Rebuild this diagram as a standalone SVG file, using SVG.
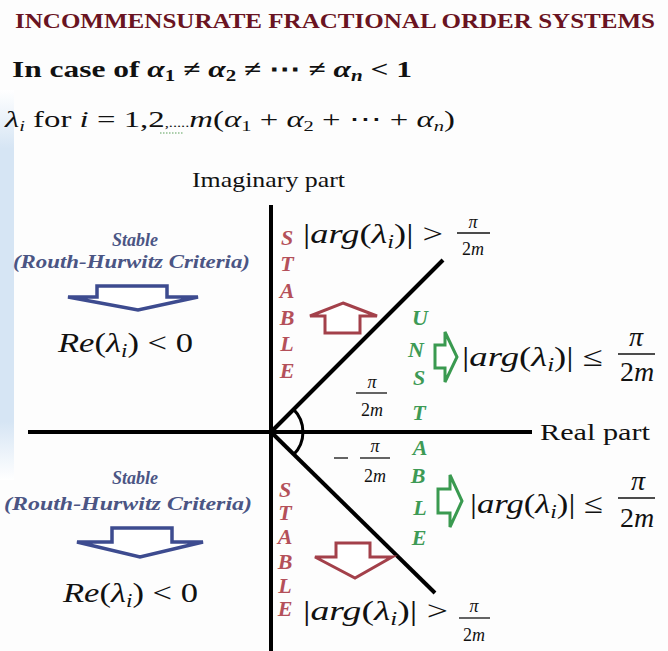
<svg xmlns="http://www.w3.org/2000/svg" width="668" height="651" viewBox="0 0 668 651" font-family="'Liberation Serif', serif">
<defs>
<linearGradient id="strip" x1="0" y1="0" x2="0" y2="1">
<stop offset="0" stop-color="#ffffff"/>
<stop offset="0.15" stop-color="#d6e5f4"/>
<stop offset="0.85" stop-color="#d6e5f4"/>
<stop offset="1" stop-color="#ffffff"/>
</linearGradient>
<style>
text{font-family:'Liberation Serif',serif;fill:#111}
.title{font-weight:bold;font-size:21px;fill:#6a1422}
.hdr{font-size:24px}
.b{font-weight:bold}
.it{font-style:italic}
.red{font-weight:bold;font-style:italic;font-size:22px;fill:#b4505a;text-anchor:middle}
.grn{font-weight:bold;font-style:italic;font-size:22px;fill:#3d9a55;text-anchor:middle}
.blue{font-weight:bold;font-style:italic;font-size:18px;fill:#4b5584;text-anchor:middle}
.axis{stroke:#000;stroke-width:4;fill:none}
.frac{stroke:#111;stroke-width:1.3}
.sm{font-size:18px}
.lg{font-size:28px}
.md{font-size:27px}
.arB{fill:#fff;stroke:#3d4b8f;stroke-width:3.5;stroke-linejoin:miter}
.arR{fill:#fff;stroke:#a3404a;stroke-width:3}
.arG{fill:#fff;stroke:#3a9a50;stroke-width:3}
</style>
</defs>
<rect width="668" height="651" fill="#fdfdfd"/>
<rect x="0" y="90" width="14" height="390" fill="url(#strip)"/>

<g id="title">
<text class="title" x="15" y="28" textLength="640" lengthAdjust="spacingAndGlyphs">INCOMMENSURATE FRACTIONAL ORDER SYSTEMS</text>
</g>
<g id="condition">
<text class="hdr b" x="12" y="77" textLength="400" lengthAdjust="spacingAndGlyphs">In case of  <tspan class="it">α</tspan><tspan font-size="16" dy="4">1</tspan><tspan dy="-4"> ≠  </tspan><tspan class="it">α</tspan><tspan font-size="16" dy="4">2</tspan><tspan dy="-4"> ≠ ⋯ ≠ </tspan><tspan class="it">α</tspan><tspan class="it" font-size="16" dy="4">n</tspan><tspan dy="-4"> &lt; 1</tspan></text>
</g>
<g id="eigen">
<text class="hdr" x="5" y="127" textLength="450" lengthAdjust="spacingAndGlyphs"><tspan class="it">λ</tspan><tspan class="it" font-size="15" dy="4">i</tspan><tspan dy="-4"> for </tspan><tspan class="it">i</tspan> = 1,2<tspan font-size="12">,.....</tspan><tspan class="it">m</tspan>(<tspan class="it">α</tspan><tspan font-size="15" dy="4">1</tspan><tspan dy="-4"> +  </tspan><tspan class="it">α</tspan><tspan font-size="15" dy="4">2</tspan><tspan dy="-4"> + ⋯ + </tspan><tspan class="it">α</tspan><tspan class="it" font-size="15" dy="4">n</tspan><tspan dy="-4">)</tspan></text>
<line x1="160" y1="133" x2="184" y2="133" stroke="#5aa05a" stroke-width="1.2" stroke-dasharray="1.5,1.5"/>
</g>

<g id="connectors">
<line class="axis" x1="271" y1="205" x2="271" y2="651"/>
<line class="axis" x1="28" y1="432" x2="532" y2="432"/>
<line class="axis" x1="271" y1="432" x2="443" y2="260"/>
<line class="axis" x1="271" y1="432" x2="435" y2="593"/>
<path d="M293.6,409.4 A32,32 0 0 1 293.6,454.6" fill="none" stroke="#000" stroke-width="3"/>
</g>

<g id="axis-labels">
<text x="192" y="187" font-size="22" textLength="153" lengthAdjust="spacingAndGlyphs">Imaginary part</text>
<text x="540" y="440" font-size="23" textLength="110" lengthAdjust="spacingAndGlyphs">Real part</text>
</g>

<g id="angle-labels">
<text class="sm it" x="372" y="388" text-anchor="middle">π</text>
<line class="frac" x1="356" y1="393" x2="387" y2="393"/>
<text class="sm" x="372" y="416" text-anchor="middle">2<tspan class="it">m</tspan></text>
<line class="frac" x1="334" y1="458" x2="348" y2="458"/>
<text class="sm it" x="375" y="452" text-anchor="middle">π</text>
<line class="frac" x1="360" y1="458" x2="390" y2="458"/>
<text class="sm" x="375" y="482" text-anchor="middle">2<tspan class="it">m</tspan></text>
</g>

<g id="stable-left-upper">
<text class="blue" x="135" y="246">Stable</text>
<text class="blue" x="13" y="268" style="text-anchor:start" textLength="237" lengthAdjust="spacingAndGlyphs">(Routh-Hurwitz Criteria)</text>
<polygon class="arB" points="97,286 167,286 167,297 198,297 138,310 68,297 97,297"/>
<text class="md" x="58" y="352" textLength="135" lengthAdjust="spacingAndGlyphs"><tspan class="it">Re</tspan>(<tspan class="it">λ</tspan><tspan class="it" font-size="18" dy="5">i</tspan><tspan dy="-5">) &lt; 0</tspan></text>
</g>

<g id="stable-left-lower">
<text class="blue" x="135" y="484">Stable</text>
<text class="blue" x="4" y="510" style="text-anchor:start" textLength="248" lengthAdjust="spacingAndGlyphs">(Routh-Hurwitz Criteria)</text>
<polygon class="arB" points="112,528 172,528 172,542 203,542 140,557 77,542 112,542"/>
<text class="md" x="63" y="602" textLength="135" lengthAdjust="spacingAndGlyphs"><tspan class="it">Re</tspan>(<tspan class="it">λ</tspan><tspan class="it" font-size="18" dy="5">i</tspan><tspan dy="-5">) &lt; 0</tspan></text>
</g>

<g id="stable-upper">
<text class="red" x="287" y="245">S</text>
<text class="red" x="287" y="271">T</text>
<text class="red" x="287" y="298">A</text>
<text class="red" x="287" y="325">B</text>
<text class="red" x="287" y="351">L</text>
<text class="red" x="287" y="378">E</text>
<text class="md" x="303" y="243" textLength="140" lengthAdjust="spacingAndGlyphs">|<tspan class="it">arg</tspan>(<tspan class="it">λ</tspan><tspan class="it" font-size="18" dy="5">i</tspan><tspan dy="-5">)| &gt;</tspan></text>
<text class="sm it" x="473" y="228" text-anchor="middle">π</text>
<line class="frac" x1="457" y1="233" x2="490" y2="233"/>
<text class="sm" x="473" y="255" text-anchor="middle">2<tspan class="it">m</tspan></text>
<polygon class="arR" points="343,303 377,316 360,316 360,333 325,333 325,316 310,316"/>
</g>

<g id="unstable">
<text class="grn" x="420" y="325">U</text>
<text class="grn" x="416" y="357" font-size="18">N</text>
<text class="grn" x="419" y="385">S</text>
<text class="grn" x="419" y="420">T</text>
<text class="grn" x="420" y="455">A</text>
<text class="grn" x="418" y="483">B</text>
<text class="grn" x="420" y="515">L</text>
<text class="grn" x="419" y="545">E</text>
<polygon class="arG" points="435,345 445,345 445,332 457,357 445,382 445,368 435,368"/>
<text class="lg" x="462" y="366" textLength="141" lengthAdjust="spacingAndGlyphs">|<tspan class="it">arg</tspan>(<tspan class="it">λ</tspan><tspan class="it" font-size="19" dy="5">i</tspan><tspan dy="-5">)| ≤</tspan></text>
<text class="lg it" x="636" y="346" text-anchor="middle">π</text>
<line class="frac" x1="618" y1="354" x2="655" y2="354" stroke-width="1.6"/>
<text class="lg" x="637" y="381" text-anchor="middle">2<tspan class="it">m</tspan></text>
<polygon class="arG" points="438,489 450,489 450,475 462,501 450,527 450,513 438,513"/>
<text class="lg" x="470" y="513" textLength="133" lengthAdjust="spacingAndGlyphs">|<tspan class="it">arg</tspan>(<tspan class="it">λ</tspan><tspan class="it" font-size="19" dy="5">i</tspan><tspan dy="-5">)| ≤</tspan></text>
<text class="lg it" x="638" y="490" text-anchor="middle">π</text>
<line class="frac" x1="618" y1="498" x2="655" y2="498" stroke-width="1.6"/>
<text class="lg" x="637" y="527" text-anchor="middle">2<tspan class="it">m</tspan></text>
</g>

<g id="stable-lower">
<text class="red" x="285" y="497" font-size="20">S</text>
<text class="red" x="285" y="520" font-size="20">T</text>
<text class="red" x="285" y="544" font-size="20">A</text>
<text class="red" x="285" y="569" font-size="20">B</text>
<text class="red" x="285" y="593" font-size="20">L</text>
<text class="red" x="285" y="616" font-size="20">E</text>
<text class="md" x="303" y="620" textLength="145" lengthAdjust="spacingAndGlyphs">|<tspan class="it">arg</tspan>(<tspan class="it">λ</tspan><tspan class="it" font-size="18" dy="5">i</tspan><tspan dy="-5">)| &gt;</tspan></text>
<text class="sm it" x="474" y="612" text-anchor="middle">π</text>
<line class="frac" x1="459" y1="618" x2="490" y2="618"/>
<text class="sm" x="474" y="641" text-anchor="middle">2<tspan class="it">m</tspan></text>
<polygon class="arR" points="336,543 370,543 370,557 392,557 355,578 315,557 336,557"/>
</g>
</svg>
